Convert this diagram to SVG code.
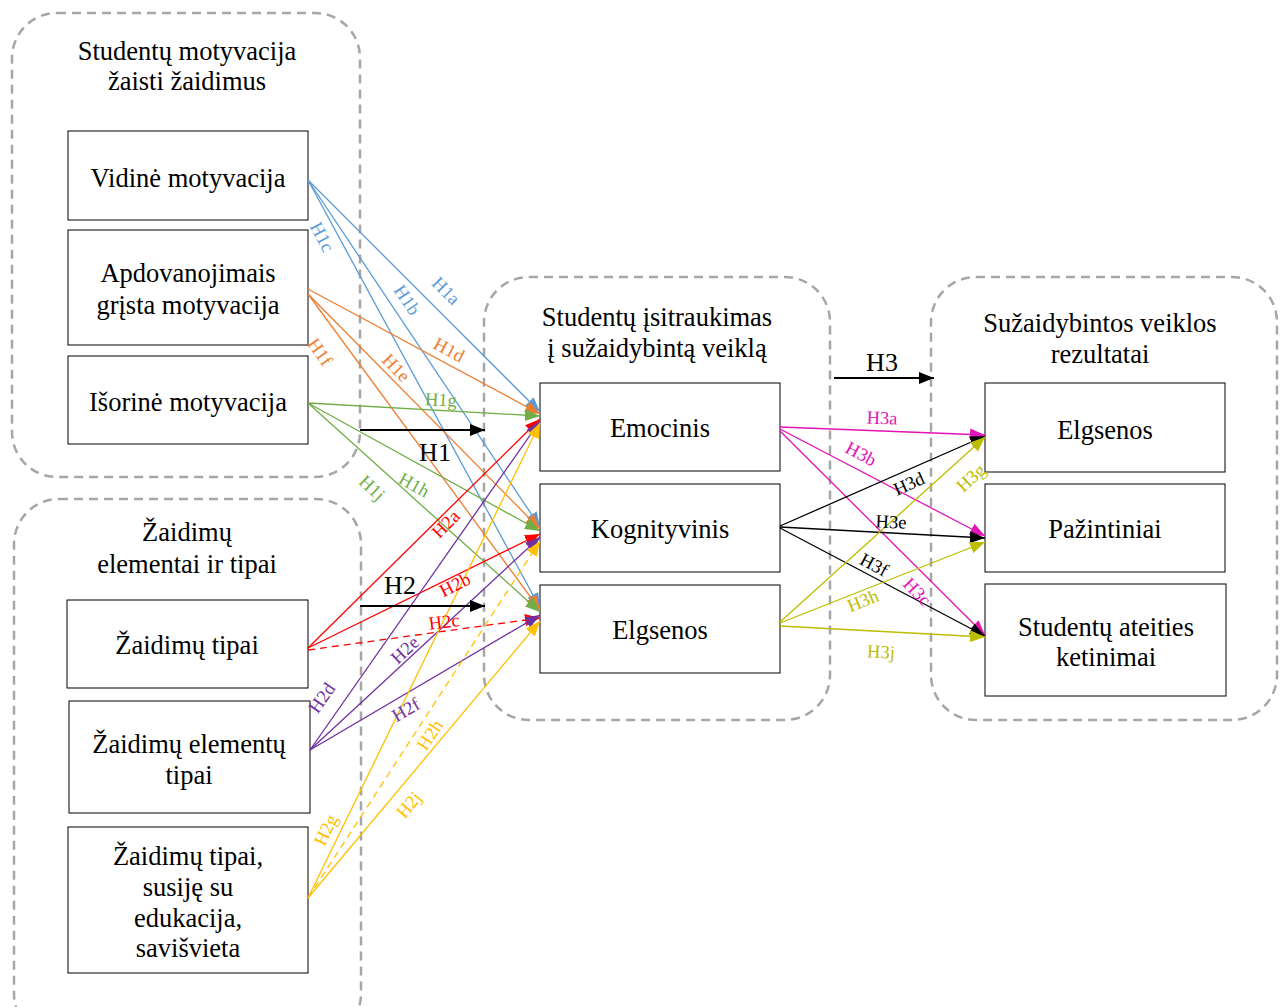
<svg xmlns="http://www.w3.org/2000/svg" width="1286" height="1007" viewBox="0 0 1286 1007">
<style>
.grp{fill:none;stroke:#A6A6A6;stroke-width:2.5;stroke-dasharray:9 6}
.node{fill:#fff;stroke:#000;stroke-width:1}
.t{font-family:"Liberation Serif","Times New Roman",serif;font-size:26.5px;text-anchor:middle;dominant-baseline:central;fill:#000}
.l{font-family:"Liberation Serif","Times New Roman",serif;font-size:18.5px;text-anchor:middle;dominant-baseline:central}
.big{font-family:"Liberation Serif","Times New Roman",serif;font-size:26px;text-anchor:middle;dominant-baseline:central;fill:#000}
.c{fill:none;stroke-width:1.3}
.dash{stroke-dasharray:7 5}
</style>
<defs>
<marker id="mBlue" markerUnits="userSpaceOnUse" markerWidth="15" markerHeight="12" refX="15" refY="6" orient="auto"><path d="M0,0 L15,6 L0,12 z" fill="#5B9BD5"/></marker>
<marker id="mOrange" markerUnits="userSpaceOnUse" markerWidth="15" markerHeight="12" refX="15" refY="6" orient="auto"><path d="M0,0 L15,6 L0,12 z" fill="#ED7D31"/></marker>
<marker id="mGreen" markerUnits="userSpaceOnUse" markerWidth="15" markerHeight="12" refX="15" refY="6" orient="auto"><path d="M0,0 L15,6 L0,12 z" fill="#70AD47"/></marker>
<marker id="mRed" markerUnits="userSpaceOnUse" markerWidth="15" markerHeight="12" refX="15" refY="6" orient="auto"><path d="M0,0 L15,6 L0,12 z" fill="#FF0000"/></marker>
<marker id="mPurple" markerUnits="userSpaceOnUse" markerWidth="15" markerHeight="12" refX="15" refY="6" orient="auto"><path d="M0,0 L15,6 L0,12 z" fill="#7030A0"/></marker>
<marker id="mYellow" markerUnits="userSpaceOnUse" markerWidth="15" markerHeight="12" refX="15" refY="6" orient="auto"><path d="M0,0 L15,6 L0,12 z" fill="#FFC000"/></marker>
<marker id="mMag" markerUnits="userSpaceOnUse" markerWidth="15" markerHeight="12" refX="15" refY="6" orient="auto"><path d="M0,0 L15,6 L0,12 z" fill="#E313B5"/></marker>
<marker id="mBlack" markerUnits="userSpaceOnUse" markerWidth="15" markerHeight="12" refX="15" refY="6" orient="auto"><path d="M0,0 L15,6 L0,12 z" fill="#000"/></marker>
<marker id="mOlive" markerUnits="userSpaceOnUse" markerWidth="15" markerHeight="12" refX="15" refY="6" orient="auto"><path d="M0,0 L15,6 L0,12 z" fill="#BDBD00"/></marker>
</defs>
<rect width="1286" height="1007" fill="#fff"/>

<g id="group-motyvacija">
<rect class="grp" x="12" y="13" width="348" height="464" rx="45"/>
<text class="t" x="187" y="51">Studentų motyvacija</text>
<text class="t" x="187" y="81">žaisti žaidimus</text>
</g>
<g id="group-elementai">
<rect class="grp" x="14" y="499" width="347" height="540" rx="45"/>
<text class="t" x="187" y="532">Žaidimų</text>
<text class="t" x="187" y="564">elementai ir tipai</text>
</g>
<g id="group-isitraukimas">
<rect class="grp" x="484" y="277" width="346" height="443" rx="45"/>
<text class="t" x="657" y="317">Studentų įsitraukimas</text>
<text class="t" x="657" y="348">į sužaidybintą veiklą</text>
</g>
<g id="group-rezultatai">
<rect class="grp" x="931" y="277" width="346" height="443" rx="45"/>
<text class="t" x="1100" y="323">Sužaidybintos veiklos</text>
<text class="t" x="1100" y="354">rezultatai</text>
</g>

<g id="node-vidine"><rect class="node" x="68" y="131" width="240" height="89"/><text class="t" x="188" y="178">Vidinė motyvacija</text></g>
<g id="node-apdovanojimais"><rect class="node" x="68" y="230" width="240" height="115"/><text class="t" x="188" y="273">Apdovanojimais</text><text class="t" x="188" y="305">grįsta motyvacija</text></g>
<g id="node-isorine"><rect class="node" x="68" y="356" width="240" height="88"/><text class="t" x="188" y="402">Išorinė motyvacija</text></g>
<g id="node-zaidimu-tipai"><rect class="node" x="67" y="600" width="241" height="88"/><text class="t" x="187" y="645">Žaidimų tipai</text></g>
<g id="node-elementu-tipai"><rect class="node" x="69" y="701" width="241" height="112"/><text class="t" x="189" y="744">Žaidimų elementų</text><text class="t" x="189" y="775">tipai</text></g>
<g id="node-edukacija"><rect class="node" x="68" y="827" width="240" height="146"/><text class="t" x="188" y="856">Žaidimų tipai,</text><text class="t" x="188" y="887">susiję su</text><text class="t" x="188" y="918">edukacija,</text><text class="t" x="188" y="948">savišvieta</text></g>
<g id="node-emocinis"><rect class="node" x="540" y="383" width="240" height="88"/><text class="t" x="660" y="428">Emocinis</text></g>
<g id="node-kognityvinis"><rect class="node" x="540" y="484" width="240" height="88"/><text class="t" x="660" y="529">Kognityvinis</text></g>
<g id="node-elgsenos-mid"><rect class="node" x="540" y="585" width="240" height="88"/><text class="t" x="660" y="630">Elgsenos</text></g>
<g id="node-elgsenos-res"><rect class="node" x="985" y="383" width="240" height="89"/><text class="t" x="1105" y="430">Elgsenos</text></g>
<g id="node-pazintiniai"><rect class="node" x="985" y="484" width="240" height="88"/><text class="t" x="1105" y="529">Pažintiniai</text></g>
<g id="node-ketinimai"><rect class="node" x="985" y="584" width="241" height="112"/><text class="t" x="1106" y="627">Studentų ateities</text><text class="t" x="1106" y="657">ketinimai</text></g>

<g id="connectors">
<line class="c" stroke="#5B9BD5" x1="308" y1="180" x2="540" y2="412" marker-end="url(#mBlue)"/>
<line class="c" stroke="#5B9BD5" x1="308" y1="180" x2="540" y2="527" marker-end="url(#mBlue)"/>
<line class="c" stroke="#5B9BD5" x1="308" y1="180" x2="540" y2="608" marker-end="url(#mBlue)"/>
<line class="c" stroke="#ED7D31" x1="308" y1="289" x2="540" y2="414" marker-end="url(#mOrange)"/>
<line class="c" stroke="#ED7D31" x1="308" y1="294" x2="540" y2="529" marker-end="url(#mOrange)"/>
<line class="c" stroke="#ED7D31" x1="308" y1="294" x2="540" y2="610" marker-end="url(#mOrange)"/>
<line class="c" stroke="#70AD47" x1="308" y1="403" x2="540" y2="416" marker-end="url(#mGreen)"/>
<line class="c" stroke="#70AD47" x1="308" y1="403" x2="540" y2="531" marker-end="url(#mGreen)"/>
<line class="c" stroke="#70AD47" x1="308" y1="403" x2="540" y2="612" marker-end="url(#mGreen)"/>
<line class="c" stroke="#FF0000" x1="308" y1="648" x2="540" y2="419" marker-end="url(#mRed)"/>
<line class="c" stroke="#FF0000" x1="308" y1="648" x2="540" y2="534" marker-end="url(#mRed)"/>
<line class="c dash" stroke="#FF0000" x1="308" y1="650" x2="540" y2="618" marker-end="url(#mRed)"/>
<line class="c" stroke="#7030A0" x1="310" y1="750" x2="540" y2="421" marker-end="url(#mPurple)"/>
<line class="c" stroke="#7030A0" x1="310" y1="750" x2="540" y2="537" marker-end="url(#mPurple)"/>
<line class="c" stroke="#7030A0" x1="310" y1="750" x2="540" y2="615" marker-end="url(#mPurple)"/>
<line class="c" stroke="#FFC000" x1="308" y1="898" x2="540" y2="423" marker-end="url(#mYellow)"/>
<line class="c dash" stroke="#FFC000" x1="308" y1="898" x2="540" y2="541" marker-end="url(#mYellow)"/>
<line class="c" stroke="#FFC000" x1="308" y1="898" x2="540" y2="621" marker-end="url(#mYellow)"/>
<line class="c" stroke="#E313B5" x1="780" y1="427" x2="985" y2="435" marker-end="url(#mMag)"/>
<line class="c" stroke="#E313B5" x1="780" y1="429" x2="985" y2="536" marker-end="url(#mMag)"/>
<line class="c" stroke="#E313B5" x1="780" y1="431" x2="985" y2="635" marker-end="url(#mMag)"/>
<line class="c" stroke="#000" x1="780" y1="526" x2="985" y2="436" marker-end="url(#mBlack)"/>
<line class="c" stroke="#000" x1="780" y1="527" x2="985" y2="538" marker-end="url(#mBlack)"/>
<line class="c" stroke="#000" x1="780" y1="528" x2="985" y2="636" marker-end="url(#mBlack)"/>
<line class="c" stroke="#BDBD00" x1="780" y1="622" x2="985" y2="437" marker-end="url(#mOlive)"/>
<line class="c" stroke="#BDBD00" x1="780" y1="623" x2="985" y2="542" marker-end="url(#mOlive)"/>
<line class="c" stroke="#BDBD00" x1="780" y1="626" x2="985" y2="637" marker-end="url(#mOlive)"/>
<line stroke="#000" stroke-width="2" x1="360" y1="430" x2="485" y2="430" marker-end="url(#mBlack)"/>
<line stroke="#000" stroke-width="2" x1="360" y1="606" x2="485" y2="606" marker-end="url(#mBlack)"/>
<line stroke="#000" stroke-width="2" x1="834" y1="378" x2="934" y2="378" marker-end="url(#mBlack)"/>
<text class="big" x="435" y="452">H1</text>
<text class="big" x="400" y="585">H2</text>
<text class="big" x="882" y="362">H3</text>
<g fill="#5B9BD5">
<text class="l" transform="translate(322,237) rotate(62)">H1c</text>
<text class="l" transform="translate(407,300) rotate(56)">H1b</text>
<text class="l" transform="translate(446,291) rotate(45)">H1a</text>
</g>
<g fill="#ED7D31">
<text class="l" transform="translate(449,350) rotate(28)">H1d</text>
<text class="l" transform="translate(396,368) rotate(46)">H1e</text>
<text class="l" transform="translate(320,352) rotate(55)">H1f</text>
</g>
<g fill="#70AD47">
<text class="l" transform="translate(441,400) rotate(3)">H1g</text>
<text class="l" transform="translate(414,485) rotate(29)">H1h</text>
<text class="l" transform="translate(372,488) rotate(43)">H1j</text>
</g>
<g fill="#FF0000">
<text class="l" transform="translate(446,524) rotate(-45)">H2a</text>
<text class="l" transform="translate(455,585) rotate(-27)">H2b</text>
<text class="l" transform="translate(444,622) rotate(-7)">H2c</text>
</g>
<g fill="#7030A0">
<text class="l" transform="translate(322,698) rotate(-55)">H2d</text>
<text class="l" transform="translate(405,650) rotate(-43)">H2e</text>
<text class="l" transform="translate(406,710) rotate(-30)">H2f</text>
</g>
<g fill="#FFC000">
<text class="l" transform="translate(326,830) rotate(-64)">H2g</text>
<text class="l" transform="translate(430,735) rotate(-57)">H2h</text>
<text class="l" transform="translate(409,805) rotate(-50)">H2j</text>
</g>
<g fill="#E313B5">
<text class="l" transform="translate(882,418) rotate(2)">H3a</text>
<text class="l" transform="translate(861,454) rotate(28)">H3b</text>
<text class="l" transform="translate(917,592) rotate(46)">H3c</text>
</g>
<g fill="#000">
<text class="l" transform="translate(909,484) rotate(-24)">H3d</text>
<text class="l" transform="translate(891,522) rotate(3)">H3e</text>
<text class="l" transform="translate(874,565) rotate(28)">H3f</text>
</g>
<g fill="#BDBD00">
<text class="l" transform="translate(971,478) rotate(-42)">H3g</text>
<text class="l" transform="translate(863,601) rotate(-22)">H3h</text>
<text class="l" transform="translate(881,652) rotate(3)">H3j</text>
</g>
</g>
</svg>
